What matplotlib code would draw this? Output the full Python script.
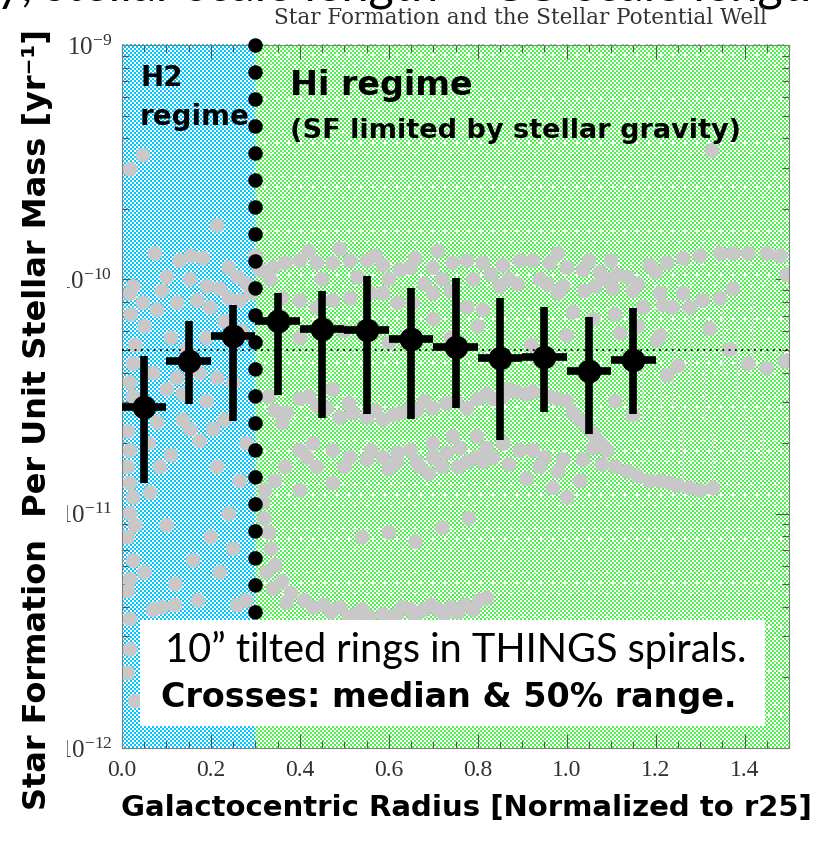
import numpy as np
import matplotlib.pyplot as plt
from matplotlib.patches import Rectangle
from matplotlib.ticker import FixedLocator, LogLocator, NullFormatter, FuncFormatter

W, H, DPI = 817, 848, 100

plt.rcParams['mathtext.fontset'] = 'custom'
plt.rcParams['mathtext.rm'] = 'Liberation Serif'
plt.rcParams['mathtext.default'] = 'regular'

BOLD = ['DejaVu Sans']
THIN = ['Lato', 'DejaVu Sans']
SERIF = ['Liberation Serif', 'DejaVu Serif']

# binned rings: median and 25-75% range of sSFR per radial bin
bin_r = [0.05, 0.15, 0.25, 0.35, 0.45, 0.55, 0.65, 0.75, 0.85, 0.95, 1.05, 1.15]
bin_med = [2.85e-11, 4.48e-11, 5.73e-11, 6.64e-11, 6.14e-11, 6.08e-11,
           5.56e-11, 5.14e-11, 4.61e-11, 4.66e-11, 4.06e-11, 4.53e-11]
bin_lo = [1.35e-11, 2.94e-11, 2.48e-11, 3.21e-11, 2.56e-11, 2.66e-11,
          2.53e-11, 2.82e-11, 2.06e-11, 2.71e-11, 2.19e-11, 2.66e-11]
bin_hi = [4.71e-11, 6.64e-11, 7.77e-11, 8.75e-11, 8.92e-11, 1.03e-10,
          9.18e-11, 1.01e-10, 8.32e-11, 7.62e-11, 6.90e-11, 7.55e-11]
bin_halfwidth = 0.05
reference_ssfr = 5e-11
h2_boundary = 0.3

# individual tilted rings, (r/r25, log10 sSFR)
rings_upper = [
    (0.310, -9.96), (0.340, -9.95), (0.367, -9.93), (0.400, -9.92), (0.438, -9.93),
    (0.474, -9.93), (0.513, -9.92), (0.551, -9.92), (0.587, -9.94), (0.625, -9.96),
    (0.648, -9.95), (0.699, -9.95), (0.744, -9.93), (0.776, -9.92), (0.812, -9.93),
    (0.857, -9.94), (0.895, -9.92), (0.924, -9.92), (0.962, -9.93), (1.001, -9.95),
    (1.037, -9.96), (1.075, -9.97), (1.113, -9.98), (1.136, -9.99), (1.187, -9.94),
    (1.226, -9.93), (1.262, -9.91), (1.300, -9.90), (1.345, -9.89), (1.374, -9.89),
    (1.408, -9.89), (1.450, -9.89), (1.480, -9.90), (1.495, -9.98),
    (0.290, -10.06), (0.333, -10.00), (0.360, -10.08), (0.400, -10.09), (0.438, -10.12),
    (0.474, -10.09), (0.513, -10.08), (0.560, -10.06), (0.587, -10.06), (0.620, -10.10),
    (0.654, -10.10), (0.699, -10.06), (0.740, -10.05), (0.776, -10.12), (0.812, -10.13),
    (0.850, -10.03), (0.890, -10.02), (0.956, -10.02), (0.992, -10.03), (1.014, -10.14),
    (1.064, -10.03), (1.104, -10.04), (1.109, -10.15), (1.149, -10.05), (1.172, -10.12),
    (1.210, -10.06), (1.217, -10.11), (1.239, -10.12), (1.262, -10.06), (1.277, -10.12),
    (1.306, -10.09), (1.345, -10.08), (1.374, -10.04), (1.327, -9.45),
    (0.450, -10.00), (0.530, -9.99), (0.600, -10.00), (0.680, -10.02), (0.720, -10.00),
    (0.790, -10.00), (0.830, -9.98), (0.870, -10.00), (0.940, -10.00), (0.980, -10.06),
    (1.040, -10.05), (1.090, -10.00), (1.160, -10.02), (0.300, -9.90), (0.420, -9.88),
    (0.490, -9.87), (0.570, -9.90), (0.660, -9.91), (0.710, -9.88), (0.980, -9.89),
    (1.050, -9.92), (1.100, -9.92), (1.200, -9.97),
]
rings_middle = [
    (0.400, -10.25), (0.500, -10.22), (0.600, -10.27), (0.700, -10.17), (0.740, -10.25),
    (0.800, -10.20), (0.920, -10.28), (1.000, -10.24), (1.060, -10.17), (1.120, -10.23),
    (1.160, -10.20), (1.210, -10.24), (1.250, -10.37), (1.322, -10.21), (1.203, -10.26),
    (1.367, -10.30), (1.408, -10.36), (1.450, -10.38), (1.491, -10.35), (1.226, -10.41),
    (1.109, -10.52), (1.149, -10.58),
    (0.345, -10.56), (0.370, -10.57), (0.400, -10.51), (0.438, -10.54), (0.474, -10.47),
    (0.490, -10.59), (0.519, -10.57), (0.551, -10.59), (0.587, -10.60), (0.625, -10.57),
    (0.663, -10.56), (0.699, -10.55), (0.730, -10.53), (0.776, -10.55), (0.800, -10.51),
    (0.834, -10.51), (0.857, -10.50), (0.888, -10.48), (0.924, -10.48), (0.962, -10.50),
    (1.001, -10.52), (1.014, -10.57), (1.046, -10.63), (1.068, -10.69), (1.091, -10.73),
    (0.420, -10.50), (0.460, -10.55), (0.510, -10.53), (0.570, -10.56), (0.610, -10.58),
    (0.650, -10.55), (0.680, -10.52), (0.750, -10.52), (0.820, -10.49), (0.870, -10.47),
    (0.910, -10.49), (0.980, -10.51), (1.030, -10.60), (1.060, -10.66), (1.080, -10.71),
    (0.360, -10.61), (0.330, -10.50),
]
rings_lower = [
    (0.400, -10.73), (0.416, -10.76), (0.438, -10.80), (0.474, -10.73), (0.513, -10.76),
    (0.551, -10.77), (0.587, -10.76), (0.618, -10.78), (0.663, -10.78), (0.700, -10.76),
    (0.730, -10.74), (0.776, -10.78), (0.812, -10.78), (0.648, -10.73), (0.670, -10.80),
    (0.699, -10.70), (0.744, -10.67), (0.756, -10.80), (0.798, -10.67), (0.798, -10.76),
    (0.834, -10.76), (0.857, -10.70), (0.895, -10.73), (0.924, -10.73), (0.940, -10.80),
    (0.992, -10.77), (1.037, -10.77), (1.059, -10.72), (1.136, -10.82), (1.187, -10.86),
    (1.232, -10.87), (1.277, -10.89), (1.329, -10.89), (0.969, -10.89), (1.030, -10.86),
    (1.001, -10.93), (0.367, -10.80), (0.344, -10.86), (0.322, -10.90), (0.400, -10.90),
    (0.474, -10.87),
    (0.430, -10.70), (0.500, -10.80), (0.560, -10.73), (0.600, -10.81), (0.620, -10.74),
    (0.690, -10.83), (0.720, -10.80), (0.760, -10.72), (0.820, -10.72), (0.870, -10.79),
    (0.910, -10.85), (0.950, -10.76), (0.980, -10.82), (1.080, -10.79), (1.110, -10.80),
    (1.160, -10.84), (1.210, -10.86), (1.250, -10.88), (1.300, -10.90),
]
rings_outer_arc = [
    (0.317, -10.95), (0.320, -11.02), (0.330, -11.08), (0.335, -11.15), (0.345, -11.22),
    (0.360, -11.29), (0.380, -11.34), (0.410, -11.37), (0.454, -11.39), (0.490, -11.40),
    (0.526, -11.43), (0.555, -11.44), (0.587, -11.43), (0.618, -11.43), (0.648, -11.41),
    (0.679, -11.41), (0.711, -11.41), (0.740, -11.40), (0.771, -11.39), (0.803, -11.37),
    (0.540, -11.10), (0.600, -11.08), (0.660, -11.12), (0.720, -11.06), (0.780, -11.02),
    (0.325, -11.25), (0.340, -11.32), (0.370, -11.38), (0.430, -11.40), (0.470, -11.42),
    (0.510, -11.44), (0.540, -11.41), (0.600, -11.45), (0.630, -11.40), (0.660, -11.44),
    (0.695, -11.39), (0.725, -11.43), (0.755, -11.42), (0.790, -11.41), (0.820, -11.36),
]
rings_inner = [
    (0.025, -10.03), (0.018, -10.06), (0.047, -10.10), (0.025, -10.36), (0.018, -10.44),
    (0.025, -10.50), (0.013, -10.65), (0.018, -10.73), (0.013, -10.80), (0.018, -10.87),
    (0.025, -10.93), (0.018, -11.00), (0.013, -11.10), (0.025, -11.20), (0.018, -11.28),
    (0.013, -11.33), (0.018, -11.45), (0.018, -11.58), (0.013, -11.68), (0.030, -11.80),
    (0.047, -9.47), (0.018, -9.53), (0.214, -9.77), (0.074, -9.89), (0.101, -9.99),
    (0.153, -10.00), (0.191, -10.03), (0.220, -10.04), (0.079, -10.13), (0.124, -10.10),
    (0.169, -10.09), (0.198, -10.12), (0.240, -10.08), (0.265, -10.09), (0.281, -10.02),
    (0.070, -10.40), (0.124, -10.42), (0.175, -10.40), (0.214, -10.42), (0.101, -10.47),
    (0.137, -10.49), (0.250, -10.44), (0.079, -10.61), (0.137, -10.60), (0.153, -10.64),
    (0.175, -10.69), (0.205, -10.64), (0.085, -10.80), (0.214, -10.80), (0.265, -10.86),
    (0.063, -10.91), (0.155, -9.90), (0.182, -9.91), (0.130, -9.92), (0.240, -9.95),
    (0.260, -9.99), (0.240, -11.00), (0.250, -11.15), (0.200, -11.10), (0.220, -11.25),
    (0.160, -11.20), (0.100, -11.05), (0.120, -11.30), (0.070, -11.41), (0.119, -11.39),
    (0.171, -11.37), (0.259, -11.39), (0.279, -11.37),
    (0.020, -10.15), (0.030, -10.28), (0.050, -10.20), (0.090, -10.05), (0.110, -10.25),
    (0.145, -10.30), (0.190, -10.25), (0.230, -10.18), (0.270, -10.22), (0.060, -10.70),
    (0.110, -10.75), (0.190, -10.52), (0.230, -10.60), (0.280, -10.70), (0.030, -11.05),
    (0.050, -11.25), (0.090, -11.40),
]
# faint error bars of the outermost rings (r/r25, log10 low, log10 high)
faint_r = [1.17, 1.21, 1.24, 1.26, 1.28, 1.31, 1.33, 1.35, 1.38, 1.40, 1.42, 1.44]
faint_lo = [-10.62, -10.70, -10.55, -10.90, -10.45, -10.60, -10.95, -10.40, -10.50, -10.85, -10.35, -10.80]
faint_hi = [-10.35, -10.40, -10.20, -10.60, -10.15, -10.25, -10.65, -10.10, -10.22, -10.55, -10.05, -10.62]

rings = np.array(rings_upper + rings_middle + rings_lower + rings_outer_arc + rings_inner)
ring_r = rings[:, 0]
ring_ssfr = 10 ** rings[:, 1]

fig = plt.figure(figsize=(W / DPI, H / DPI), dpi=DPI)
fig.patch.set_facecolor('white')
ax = fig.add_axes([122 / W, 1 - 748 / H, (789 - 122) / W, (748 - 45) / H])
ax.set_xlim(0, 1.5)
ax.set_yscale('log')
ax.set_ylim(1e-12, 1e-9)
ax.patch.set_facecolor('none')


def checker(x0, x1, y0, y1, rgb, dots=False):
    """Pixel checkerboard fill between display coords, returned as RGB image."""
    iy, ix = np.mgrid[y1 - 1:y0 - 1:-1, x0:x1]
    on = ((ix // 2 + iy // 2) % 2) == 0
    img = np.ones(ix.shape + (3,))
    img[on] = np.array(rgb) / 255.0
    if dots:
        row = iy // 11
        spot = ((iy % 11) < 2) & (((ix + 6 * (row % 2)) % 12) < 2)
        img[spot] = 1.0
    return img


# H2 / HI shaded regimes, placed in display pixels so the pattern stays crisp
corners = ax.transData.transform([(0, 1e-12), (h2_boundary, 1e-9), (1.5, 1e-9)])
px0, py0 = np.round(corners[0]).astype(int)
pxb, py1 = np.round(corners[1]).astype(int)
px1 = int(round(corners[2][0]))
fig.figimage(checker(px0, pxb, py0, py1 + 1, (0, 200, 255)), xo=px0, yo=py0, origin='upper', zorder=-1)
fig.figimage(checker(pxb, px1 + 1, py0, py1 + 1, (80, 240, 80), dots=True), xo=pxb, yo=py0,
             origin='upper', zorder=-1)

ax.vlines(faint_r, 10 ** np.array(faint_lo), 10 ** np.array(faint_hi), color='#d4d4d4', lw=0.8, zorder=1)
ax.scatter(ring_r, ring_ssfr, s=115, color='#c8c8c8', edgecolors='none', zorder=2)
ax.axhline(reference_ssfr, color='black', lw=1.3, ls=(0, (1, 2.5)), zorder=3)

med = np.array(bin_med)
ax.errorbar(bin_r, med, xerr=bin_halfwidth,
            yerr=[med - np.array(bin_lo), np.array(bin_hi) - med],
            fmt='o', ms=16, color='black', elinewidth=5.5, capsize=0, zorder=5)

ax.plot([h2_boundary, h2_boundary], [1e-9, 10 ** -11.5], color='black', lw=10.5,
        ls=(0, (0.001, 1.85)), dash_capstyle='round', clip_on=False, zorder=6)

# regime labels
ax.text(0.027, 0.953, 'H2', transform=ax.transAxes, family=BOLD, weight='bold',
        fontsize=20, ha='left', va='center', zorder=7)
ax.text(0.027, 0.897, 'regime', transform=ax.transAxes, family=BOLD, weight='bold',
        fontsize=20, ha='left', va='center', zorder=7)
ax.text(0.252, 0.943, 'Hi regime', transform=ax.transAxes, family=BOLD, weight='bold',
        fontsize=24, ha='left', va='center', zorder=7)
ax.text(0.252, 0.878, '(SF limited by stellar gravity)', transform=ax.transAxes, family=BOLD,
        weight='bold', fontsize=19.5, ha='left', va='center', zorder=7)

# caption box
ax.add_patch(Rectangle((0.027, 0.031), 0.937, 0.151, transform=ax.transAxes,
                       facecolor='white', edgecolor='none', zorder=8))
ax.text(0.5, 0.139, '10\u201d tilted rings in THINGS spirals.', transform=ax.transAxes,
        family=THIN, weight='normal', fontsize=28.5, ha='center', va='center', zorder=9)
ax.text(0.49, 0.0725, 'Crosses: median & 50% range.', transform=ax.transAxes,
        family=BOLD, weight='bold', fontsize=24, ha='center', va='center', zorder=9)

# axes styling
ax.xaxis.set_major_locator(FixedLocator(np.arange(0, 1.41, 0.2)))
ax.xaxis.set_minor_locator(FixedLocator(np.arange(0, 1.51, 0.05)))
ax.xaxis.set_major_formatter(FuncFormatter(lambda v, p: f'{v:.1f}'))
ax.yaxis.set_major_locator(LogLocator(base=10, numticks=10))
ax.yaxis.set_minor_locator(LogLocator(base=10, subs=np.arange(2, 10), numticks=10))
ax.yaxis.set_minor_formatter(NullFormatter())
ax.yaxis.set_major_formatter(FuncFormatter(lambda v, p: r'$10^{%d}$' % round(np.log10(v))))
ax.tick_params(which='both', direction='in', top=True, right=True, color='#555555', width=0.8)
ax.tick_params(which='major', length=10)
ax.tick_params(which='minor', length=5)
ax.tick_params(axis='x', labelsize=17, pad=9, labelcolor='#333333')
ax.tick_params(axis='y', labelsize=18, pad=7, labelcolor='#333333')
for lab in ax.get_xticklabels() + ax.get_yticklabels():
    lab.set_family(SERIF)
for sp in ax.spines.values():
    sp.set_color('#808080')
    sp.set_linewidth(0.8)

# slide texts around the plot; the line above the title is cut by the page edge
fig.text(-0.005, 1 - 0.5 / H, 'y, stellar scale length ~ CO scale length', family=THIN,
         fontsize=35, ha='left', va='baseline', color='black')
fig.text(520 / W, 1 - 18 / H, 'Star Formation and the Stellar Potential Well', family=['DejaVu Serif'],
         fontsize=15.5, ha='center', va='center', color='#333333')
# white panel behind the vertical title (it hides the left edge of the lower tick labels)
fig.add_artist(Rectangle((0, 0), 67 / W, 1 - 68 / H, transform=fig.transFigure,
                         facecolor='white', edgecolor='none', zorder=2))
fig.text(38 / W, 1 - 420 / H, 'Star Formation  Per Unit Stellar Mass [yr\u207b\u00b9]', family=BOLD,
         weight='bold', fontsize=23, rotation=90, ha='center', va='center', zorder=3)
fig.text(466 / W, 1 - 808 / H, 'Galactocentric Radius [Normalized to r25]', family=BOLD,
         weight='bold', fontsize=21, ha='center', va='center')

fig.savefig('out.png', dpi=DPI, facecolor='white')
